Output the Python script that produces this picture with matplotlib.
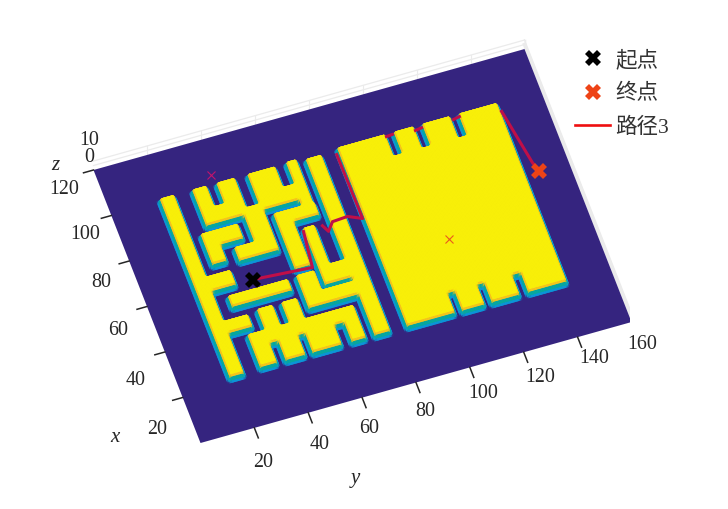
import numpy as np
import matplotlib
matplotlib.use('Agg')
import matplotlib.pyplot as plt
from matplotlib.colors import LinearSegmentedColormap
from matplotlib.lines import Line2D
from matplotlib.transforms import IdentityTransform
from mpl_toolkits.mplot3d import proj3d

plt.rcParams['font.family'] = ['Liberation Serif', 'Noto Sans CJK SC']

# obstacle rectangles, x0, x1, y0, y1
wall_x0 = [21.5, 57.5, 39, 49, 22, 36, 36, 84, 76, 76, 57, 40, 40, 47.5, 47.5, 22, 75, 68, 66.5, 66.5, 22]
wall_x1 = [99.5, 63.5, 44, 53.5, 36, 45, 45, 99.5, 100, 81, 81, 54, 45.5, 72, 55, 99, 81, 81, 72, 84, 100]
wall_y0 = [18, 23, 23, 28, 29.5, 36, 45, 30, 64.5, 54, 54, 53.5, 53.5, 62.3, 62.3, 72, 27, 27, 36.5, 44, 84]
wall_y1 = [23, 32, 32, 50, 68.5, 41.5, 50.5, 64.5, 68.5, 69, 59.5, 60, 72, 66, 72, 77.5, 40.5, 32, 51, 51, 143]

# notches cut out of the rectangles
cut_x0 = [18, 18, 18, 91, 87, 91, 18, 18, 18, 91, 91, 91]
cut_x1 = [30, 30, 30, 104, 104, 104, 30, 30, 30, 104, 104, 104]
cut_y0 = [35.8, 46.2, 60, 35.5, 46, 61, 101.7, 112.7, 125.8, 101.7, 112.3, 126]
cut_y1 = [38.6, 48.5, 63, 38.5, 50, 64.5, 104.3, 115.3, 128.6, 104.5, 115, 128.8]

# visible stretches of the path (nan = hidden behind a wall)
path_x = [58.7, 56.9, 72.1, np.nan, 72.3, 69.4, 72.8, 73.2, 70.7, 98.9, np.nan,
          100.5, 100.7, np.nan, 99.7, 100.1, np.nan, 99.8, 100.3, np.nan, 97.7, 74, 70.1]
path_y = [39.1, 60.4, 62.1, np.nan, 69.2, 70.5, 73.1, 78.8, 83.6, 83.3, np.nan,
          102.3, 104.6, np.nan, 112.8, 115.2, np.nan, 126.9, 129.3, np.nan, 144.1, 147.7, 148.7]

start_pt = (58.7, 39.1)
end_pt = (70.1, 148.7)
small_pts = [(105, 38.8), (53.1, 110)]
small_cols = ['#c3146c', '#ea5a1c']

x_ticks = [20, 40, 60, 80, 100, 120]
y_ticks = [20, 40, 60, 80, 100, 120, 140, 160]
z_ticks = [0, 10]
z_top = 5.8

legend_labels = ['起点', '终点', '路径3']

# label offsets from the tick, in pixels
x_off_h = [-26, -29, -29, -28, -26, -29]
x_off_v = [32, 28, 24, 21, 19, 19]
y_off_h = [9, 11, 7, 9, 13, 16, 17, 11]
y_off_v = [35, 32, 31, 29, 26, 25, 21, 22]
z_off_v = [13, 30]

W, H = 728, 509
fig = plt.figure(figsize=(W / 100, H / 100), dpi=100)
ax = fig.add_axes([0, 0, H / W, 1], projection='3d', proj_type='ortho', computed_zorder=False)
ax.set_xlim(120, 0)
ax.set_ylim(0, 160)
ax.set_zlim(0, 10)
ax.set_box_aspect((339.9, 454.1, 16.9))
ax.view_init(elev=57.8, azim=-18.35)
ax.set_axis_off()
ax.patch.set_alpha(0)


def to_px(x, y, z=0):
    xs, ys, _ = proj3d.proj_transform(x, y, z, ax.get_proj())
    return ax.transData.transform((xs, ys))


def blur(a):
    kernel = np.array([1, 2, 1]) / 4
    for axis in (0, 1):
        a = np.apply_along_axis(lambda r: np.convolve(r, kernel, mode='same'), axis, a)
    return a


# fit the axes so the floor corners land where they should
ax.apply_aspect()
p0, p1 = to_px(0, 0), to_px(0, 160)
side = H * np.hypot(431, 121) / np.hypot(*(p1 - p0))
ax.set_position([0, 0, side / W, side / H])
ax.apply_aspect()
p0 = to_px(0, 0)
ax.set_position([(200.5 - p0[0]) / W, (H - 443 - p0[1]) / H, side / W, side / H])
ax.apply_aspect()

# height map
pad = 0.45
xg = np.arange(0, 120.01, 0.5)
yg = np.arange(0, 160.01, 0.5)
Y, X = np.meshgrid(yg, xg)
mask = np.zeros(X.shape)
for a, b, c, d in zip(wall_x0, wall_x1, wall_y0, wall_y1):
    mask[(X >= a - pad) & (X <= b + pad) & (Y >= c - pad) & (Y <= d + pad)] = 1
for a, b, c, d in zip(cut_x0, cut_x1, cut_y0, cut_y1):
    mask[(X >= a) & (X <= b) & (Y >= c) & (Y <= d)] = 0
Z = blur(mask)
Z_walls = np.where(blur(Z) > 0, Z, np.nan)

cmap = LinearSegmentedColormap.from_list('walls', [
    (0.0, '#35247f'), (0.125, '#0b96d8'), (0.3, '#07a4c6'), (0.5, '#06a8a0'),
    (0.75, '#a8bc40'), (0.875, '#f6c41c'), (0.95, '#f9f008'), (1.0, '#f9f008')])

# floor as one flat quad, walls on top of it
FY, FX = np.meshgrid([0, 160], [0, 120])
ax.plot_surface(FX, FY, np.zeros(FX.shape), color='#35247f', linewidth=0, shade=False, zorder=1.5)
surf = ax.plot_surface(X, Y, Z_walls * z_top, rstride=1, cstride=1, cmap=cmap, vmin=0, vmax=z_top,
                       linewidth=0.6, antialiased=True, shade=False, zorder=2)
surf.set_edgecolor('face')

# back walls
wall_col = '#ebebeb'
ax.plot([120, 120], [0, 160], [10, 10], color=wall_col, lw=0.9, zorder=1)
ax.plot([120, 120], [0, 160], [5, 5], color=wall_col, lw=0.9, zorder=1)
ax.plot([0, 120], [160, 160], [5, 5], color=wall_col, lw=2.5, zorder=1)
ax.plot([0, 120], [160, 160], [10, 10], color=wall_col, lw=0.9, zorder=1)
for t in y_ticks:
    ax.plot([120, 120], [t, t], [0, 10], color=wall_col, lw=0.8, zorder=1)
ax.plot([120, 120], [160, 160], [0, 10], color=wall_col, lw=1, zorder=1)

# path and points
ax.plot(path_x, path_y, [0.5] * len(path_x), color='#c00f48', lw=2.2, zorder=3)
for (px_, py_), c in zip(small_pts, small_cols):
    ax.plot([px_], [py_], [0], ls='none', marker='x', ms=5.5, mew=0.8, color=c, zorder=3)
ax.plot([start_pt[0]], [start_pt[1]], [0], ls='none', marker='X', ms=11, mew=0, color='black', zorder=4)
ax.plot([end_pt[0]], [end_pt[1]], [0], ls='none', marker='X', ms=11, mew=0, color='#ee4316', zorder=4)

# axis ticks and labels
tick_col = '#262626'
label_size = 14.4


def put_label(px, py, s):
    fig.text(px, py, s, transform=IdentityTransform(), ha='center', va='center',
             fontsize=label_size, color=tick_col)


for t, dh, dv in zip(x_ticks, x_off_h, x_off_v):
    ax.plot([t, t], [0, -3.7], [0, 0], color=tick_col, lw=1.1, zorder=5)
    p = to_px(t, 0)
    put_label(p[0] + dh, p[1] - dv, str(t))
for t, dh, dv in zip(y_ticks, y_off_h, y_off_v):
    ax.plot([0, -4.4], [t, t], [0, 0], color=tick_col, lw=1.1, zorder=5)
    p = to_px(0, t)
    put_label(p[0] + dh, p[1] - dv, str(t))
for t, dv in zip(z_ticks, z_off_v):
    p = to_px(120, 0, 0)
    put_label(p[0] - 4, p[1] + dv, str(t))

for s, px, py in [('x', 115, 437), ('y', 355, 478), ('z', 55, 166)]:
    fig.text(px, H - py, s, transform=IdentityTransform(), ha='center', va='center',
             fontsize=15, style='italic', color=tick_col)

handles = [
    Line2D([], [], ls='none', marker='X', ms=11, mew=0, color='black'),
    Line2D([], [], ls='none', marker='X', ms=11, mew=0, color='#ee4316'),
    Line2D([], [], color='#ee0f10', lw=1.9),
]
fig.legend(handles, legend_labels, loc='upper left', bbox_to_anchor=(575 / W, 1 - 50 / H),
           frameon=False, prop={'size': 15.5}, labelcolor='#333333',
           handlelength=1.63, handletextpad=0.25, labelspacing=0.62, borderpad=0, borderaxespad=0)

fig.savefig('out.png', dpi=100)
